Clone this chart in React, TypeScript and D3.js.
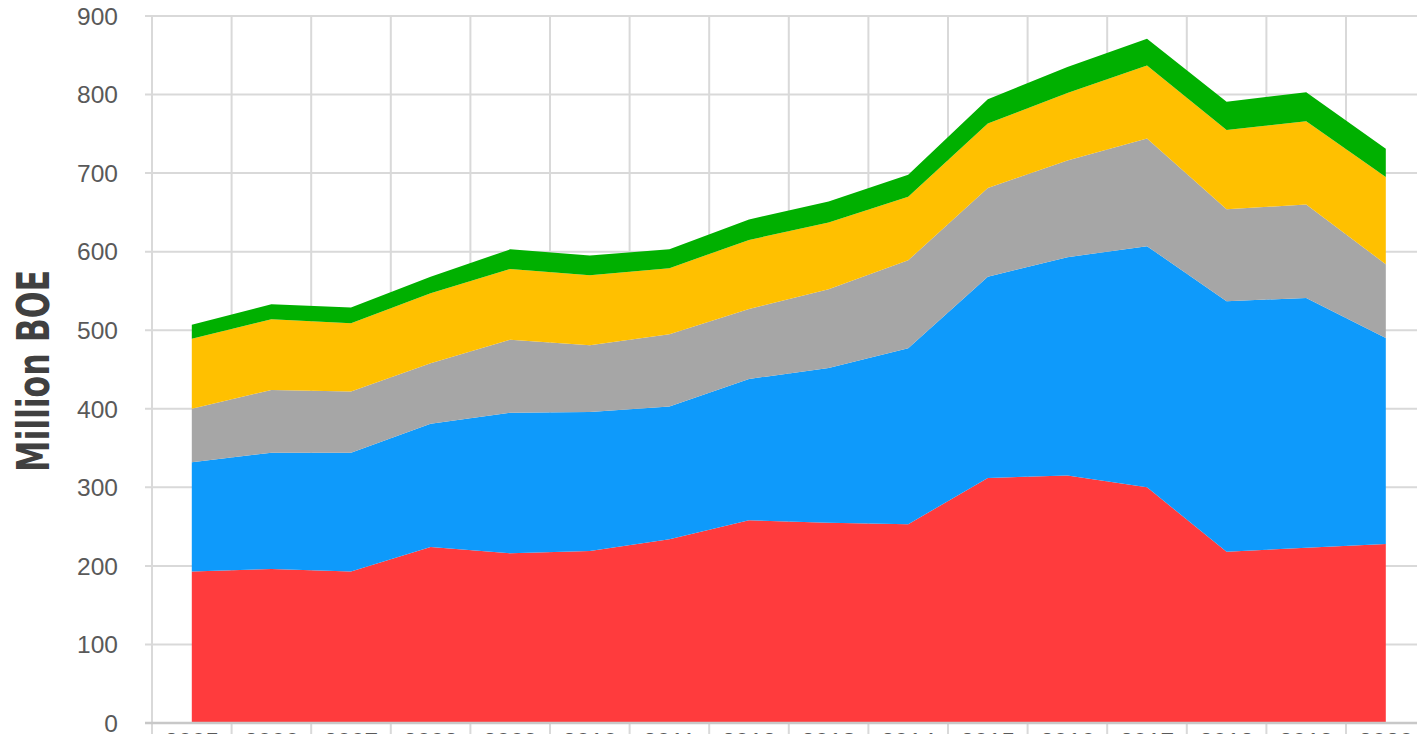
import React, { useRef, useEffect } from 'react';
import * as d3 from 'd3';

// years along the bottom (labels are clipped by the frame)
const years = ['2005', '2006', '2007', '2008', '2009', '2010', '2011', '2012',
  '2013', '2014', '2015', '2016', '2017', '2018', '2019', '2020'];

// million BOE per layer, bottom to top
const redSeries = [193, 196, 193, 224, 216, 219, 234, 258, 255, 253, 312, 315, 300, 218, 223, 228];
const blueSeries = [139, 148, 151, 157, 179, 177, 169, 180, 197, 224, 256, 278, 307, 319, 318, 262];
const graySeries = [68, 80, 78, 77, 93, 85, 92, 89, 100, 112, 113, 123, 137, 117, 119, 94];
const yellowSeries = [89, 90, 87, 89, 90, 89, 84, 88, 85, 81, 82, 86, 93, 101, 106, 111];
const greenSeries = [18, 19, 20, 21, 25, 25, 24, 26, 27, 28, 31, 33, 34, 36, 37, 36];

const yTicks = [0, 100, 200, 300, 400, 500, 600, 700, 800, 900];

const keys = ['red', 'blue', 'gray', 'yellow', 'green'];
const colors = {
  red: '#FF3B3D',
  blue: '#0E9AFB',
  gray: '#A6A6A6',
  yellow: '#FFC000',
  green: '#00B000',
};

function App() {
  const svgRef = useRef(null);

  useEffect(() => {
    const svg = d3.select(svgRef.current);
    svg.selectAll('*').remove();

    const rows = years.map((yr, i) => ({
      year: yr,
      red: redSeries[i],
      blue: blueSeries[i],
      gray: graySeries[i],
      yellow: yellowSeries[i],
      green: greenSeries[i],
    }));

    const x = d3.scaleBand().domain(years).range([152, 152 + 79.6 * 16]);
    const y = d3.scaleLinear().domain([0, 900]).range([723, 16]);
    const cx = (d) => x(d) + x.bandwidth() / 2;

    // horizontal gridlines
    svg.append('g')
      .selectAll('line')
      .data(yTicks)
      .enter()
      .append('line')
      .attr('x1', 145)
      .attr('x2', 1417)
      .attr('y1', d => y(d))
      .attr('y2', d => y(d))
      .attr('stroke', '#D9D9D9')
      .attr('stroke-width', 2);

    // vertical gridlines, running down past the axis as ticks
    const edges = years.map(d => x(d)).concat([x.range()[1]]);
    svg.append('g')
      .selectAll('line')
      .data(edges)
      .enter()
      .append('line')
      .attr('x1', d => d)
      .attr('x2', d => d)
      .attr('y1', y(900))
      .attr('y2', 734)
      .attr('stroke', '#D9D9D9')
      .attr('stroke-width', 2);

    // stacked areas
    const stacked = d3.stack().keys(keys)(rows);
    const area = d3.area()
      .x(d => cx(d.data.year))
      .y0(d => y(d[0]))
      .y1(d => y(d[1]));

    svg.append('g')
      .selectAll('path')
      .data(stacked)
      .enter()
      .append('path')
      .attr('fill', d => colors[d.key])
      .attr('d', area);

    // x axis line
    svg.append('line')
      .attr('x1', 145)
      .attr('x2', 1417)
      .attr('y1', y(0))
      .attr('y2', y(0))
      .attr('stroke', '#C8C8C8')
      .attr('stroke-width', 2.5);

    // y tick labels
    svg.append('g')
      .selectAll('text')
      .data(yTicks)
      .enter()
      .append('text')
      .attr('x', 118)
      .attr('y', d => y(d))
      .attr('dy', '0.36em')
      .attr('text-anchor', 'end')
      .attr('font-family', '"Liberation Sans", Arial, sans-serif')
      .attr('font-size', 24.5)
      .attr('fill', '#595959')
      .text(d => d);

    // x tick labels (only their tops show inside the frame)
    svg.append('g')
      .selectAll('text')
      .data(years)
      .enter()
      .append('text')
      .attr('x', d => cx(d))
      .attr('y', 749.5)
      .attr('text-anchor', 'middle')
      .attr('font-family', '"Liberation Sans", Arial, sans-serif')
      .attr('font-size', 24.5)
      .attr('fill', '#595959')
      .text(d => d);

    // axis title
    svg.append('text')
      .attr('transform', 'translate(49,371) rotate(-90)')
      .attr('text-anchor', 'middle')
      .attr('font-family', '"Liberation Sans Narrow", "DejaVu Sans Condensed", sans-serif')
      .attr('font-weight', 'bold')
      .attr('font-size', 44)
      .attr('textLength', 202)
      .attr('lengthAdjust', 'spacingAndGlyphs')
      .attr('fill', '#404040')
      .text('Million BOE');
  }, []);

  return (
    <svg ref={svgRef} width={1417} height={734}
      style={{ position: 'absolute', left: 0, top: 0, background: '#fff' }}>
    </svg>
  );
}

export default App;
